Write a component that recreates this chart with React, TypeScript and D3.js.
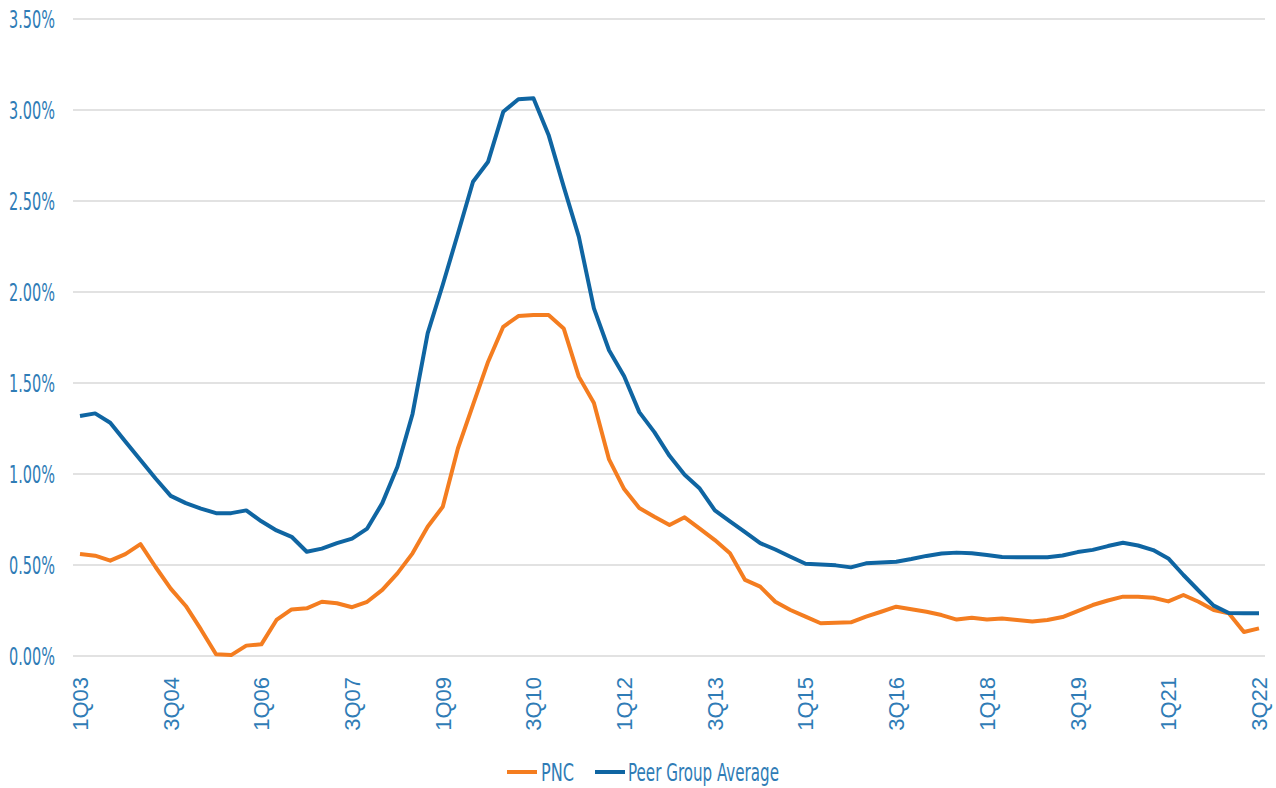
import React, { useMemo } from "react";
import * as d3 from "d3";

// quarterly series, 1Q03 .. 3Q22
const years = d3.range(2003, 2023);
const quarters = years
  .flatMap((y) => [1, 2, 3, 4].map((q) => `${q}Q${String(y).slice(2)}`))
  .slice(0, 79);

const tickLabels = [
  "1Q03", "3Q04", "1Q06", "3Q07", "1Q09", "3Q10", "1Q12",
  "3Q13", "1Q15", "3Q16", "1Q18", "3Q19", "1Q21", "3Q22",
];

const yTicks = [0, 0.5, 1, 1.5, 2, 2.5, 3, 3.5];

const pnc = [
  0.56, 0.551, 0.524, 0.56, 0.615, 0.489, 0.37, 0.275, 0.146, 0.01,
  0.005, 0.057, 0.064, 0.198, 0.256, 0.262, 0.298, 0.29, 0.268, 0.298,
  0.363, 0.454, 0.564, 0.71, 0.82, 1.14, 1.38, 1.617, 1.809, 1.868,
  1.873, 1.873, 1.8, 1.535, 1.39, 1.08, 0.917, 0.813, 0.765, 0.72,
  0.762, 0.7, 0.637, 0.564, 0.418, 0.381, 0.298, 0.253, 0.216, 0.18,
  0.183, 0.185, 0.216, 0.243, 0.271, 0.257, 0.243, 0.225, 0.2, 0.21,
  0.2, 0.206, 0.198, 0.19, 0.198, 0.214, 0.247, 0.28, 0.305, 0.326,
  0.326, 0.32, 0.3, 0.335, 0.298, 0.253, 0.235, 0.132, 0.152,
];

const peer = [
  1.319, 1.333, 1.282, 1.178, 1.077, 0.975, 0.88, 0.84, 0.81, 0.785,
  0.785, 0.8, 0.74, 0.69, 0.655, 0.573, 0.59, 0.62, 0.645, 0.7,
  0.84, 1.04, 1.33, 1.773, 2.04, 2.32, 2.606, 2.716, 2.99, 3.059,
  3.064, 2.863, 2.579, 2.304, 1.91, 1.68, 1.537, 1.34, 1.23, 1.1,
  0.996, 0.92, 0.8, 0.74, 0.68, 0.62, 0.585, 0.545, 0.507, 0.503,
  0.498, 0.487, 0.509, 0.514, 0.518, 0.533, 0.55, 0.563, 0.568, 0.564,
  0.555, 0.544, 0.543, 0.542, 0.543, 0.552, 0.571, 0.583, 0.604, 0.622,
  0.607, 0.582, 0.536, 0.445, 0.36, 0.277, 0.236, 0.235, 0.235,
];

const orange = "#f47d20";
const blue = "#0f65a2";
const labelColor = "#2f7cb6";
const narrow = "'DejaVu Sans Condensed', 'Liberation Sans Narrow', sans-serif";

const App = () => {
  const width = 1276,
    height = 788;

  const x = useMemo(
    () => d3.scalePoint<string>().domain(quarters).range([80, 1259]),
    []
  );
  const y = useMemo(
    () => d3.scaleLinear().domain([0, 3.5]).range([656, 19]),
    []
  );

  const line = d3
    .line<number>()
    .x((_, i) => x(quarters[i]) as number)
    .y((d) => y(d));

  const series = [
    { name: "PNC", values: pnc, color: orange },
    { name: "Peer Group Average", values: peer, color: blue },
  ];

  return (
    <svg
      width={width}
      height={height}
      style={{ position: "absolute", left: 0, top: 0, background: "#fff" }}
    >
      {yTicks.map((t) => (
        <g key={t}>
          <line
            x1={73}
            x2={1265}
            y1={y(t)}
            y2={y(t)}
            stroke="#e2e2e2"
            strokeWidth={2}
          />
          <text
            x={9}
            y={y(t)}
            dy="0.36em"
            textLength={46}
            lengthAdjust="spacingAndGlyphs"
            fill={labelColor}
            style={{ font: `25px ${narrow}` }}
          >
            {`${t.toFixed(2)}%`}
          </text>
        </g>
      ))}

      {tickLabels.map((q) => (
        <text
          key={q}
          transform={`translate(${x(q)},677) rotate(-90)`}
          textAnchor="end"
          dy="0.36em"
          fill={labelColor}
          style={{ font: "22px 'Liberation Sans', Arial, sans-serif" }}
        >
          {q}
        </text>
      ))}

      {series.map((s) => (
        <path
          key={s.name}
          d={line(s.values) || ""}
          fill="none"
          stroke={s.color}
          strokeWidth={4}
          strokeLinejoin="round"
        />
      ))}

      {/* legend */}
      <g>
        <line x1={507} x2={537} y1={772} y2={772} stroke={orange} strokeWidth={4} />
        <text
          x={541}
          y={781}
          textLength={33}
          lengthAdjust="spacingAndGlyphs"
          fill={labelColor}
          style={{ font: `24px ${narrow}` }}
        >
          PNC
        </text>
        <line x1={595} x2={625} y1={772} y2={772} stroke={blue} strokeWidth={4} />
        <text
          x={628}
          y={781}
          textLength={151}
          lengthAdjust="spacingAndGlyphs"
          fill={labelColor}
          style={{ font: `24px ${narrow}` }}
        >
          Peer Group Average
        </text>
      </g>
    </svg>
  );
};

export default App;
